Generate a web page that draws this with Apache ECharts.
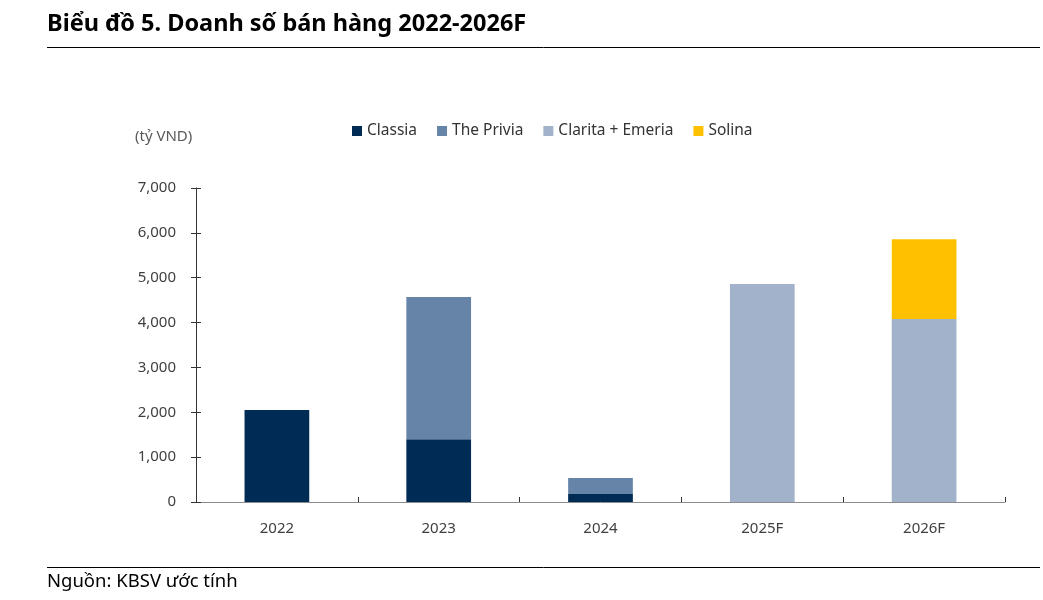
<!DOCTYPE html>
<html>
<head>
<meta charset="utf-8">
<script src="https://cdn.jsdelivr.net/npm/echarts@6/dist/echarts.min.js"></script>
<style>html,body{margin:0;padding:0;background:#fff;}#main{width:1043px;height:600px;}</style>
</head>
<body>
<div id="main"></div>
<script>
const categories = ['2022', '2023', '2024', '2025F', '2026F'];
const classia = [2050, 1400, 180, 0, 0];
const privia = [0, 3170, 355, 0, 0];
const claritaEmeria = [0, 0, 0, 4860, 4080];
const solina = [0, 0, 0, 0, 1780];
const seriesNames = ['Classia', 'The Privia', 'Clarita + Emeria', 'Solina'];
const colors = ['#002b55', '#6684a8', '#a2b2ca', '#ffc000'];

const FONT = 'Noto Sans';
const chart = echarts.init(document.getElementById('main'));
const mk = (name, data, color) => ({
  name, type: 'bar', stack: 'total', data: data.map(v => v === 0 ? null : v),
  barWidth: '40%', itemStyle: { color }, emphasis: { disabled: true }
});
chart.setOption({
  animation: false,
  textStyle: { fontFamily: FONT },
  grid: { left: 196, right: 38, top: 188, bottom: 98 },
  legend: {
    left: 347, top: 118, itemWidth: 10, itemHeight: 10, itemGap: 20,
    icon: 'rect',
    textStyle: { fontSize: 15.5, color: '#333', fontFamily: FONT },
    data: seriesNames
  },
  xAxis: {
    type: 'category', data: categories,
    axisLine: { lineStyle: { color: '#8c8c8c', width: 1 } },
    axisTick: { show: true, inside: true, length: 5, lineStyle: { color: '#333' } },
    axisLabel: { fontSize: 15, color: '#404040', margin: 19, fontFamily: FONT }
  },
  yAxis: [{
    type: 'value', min: 0, max: 7000, interval: 1000,
    splitLine: { show: false },
    axisLine: { show: true, lineStyle: { color: '#333' } },
    axisTick: { show: true, length: 5, lineStyle: { color: '#333' } },
    axisLabel: { fontSize: 15, color: '#404040', margin: 20, fontFamily: FONT,
      formatter: v => v.toLocaleString('en-US') }
  }, {
    type: 'value', min: 0, max: 7000, interval: 1000, position: 'left', offset: 0,
    splitLine: { show: false },
    axisLine: { show: false },
    axisTick: { show: true, inside: true, length: 5, lineStyle: { color: '#333' } },
    axisLabel: { show: false }
  }],
  series: [
    mk(seriesNames[0], classia, colors[0]),
    mk(seriesNames[1], privia, colors[1]),
    mk(seriesNames[2], claritaEmeria, colors[2]),
    mk(seriesNames[3], solina, colors[3])
  ],
  graphic: [
    { type: 'text', left: 47, top: 12, style: { text: 'Biểu đồ 5. Doanh số bán hàng 2022-2026F', fontSize: 23.5, fontWeight: 'bold', fontFamily: FONT, fill: '#000' } },
    { type: 'line', shape: { x1: 47, y1: 47.5, x2: 1040, y2: 47.5 }, style: { stroke: '#000', lineWidth: 1 } },
    { type: 'text', left: 135, top: 129, style: { text: '(tỷ VND)', fontSize: 15, fontFamily: FONT, fill: '#595959' } },
    { type: 'line', shape: { x1: 47, y1: 567.5, x2: 1040, y2: 567.5 }, style: { stroke: '#000', lineWidth: 1 } },
    { type: 'text', left: 47, top: 572, style: { text: 'Nguồn: KBSV ước tính', fontSize: 18.5, fontFamily: FONT, fill: '#000' } }
  ]
});
</script>
</body>
</html>
